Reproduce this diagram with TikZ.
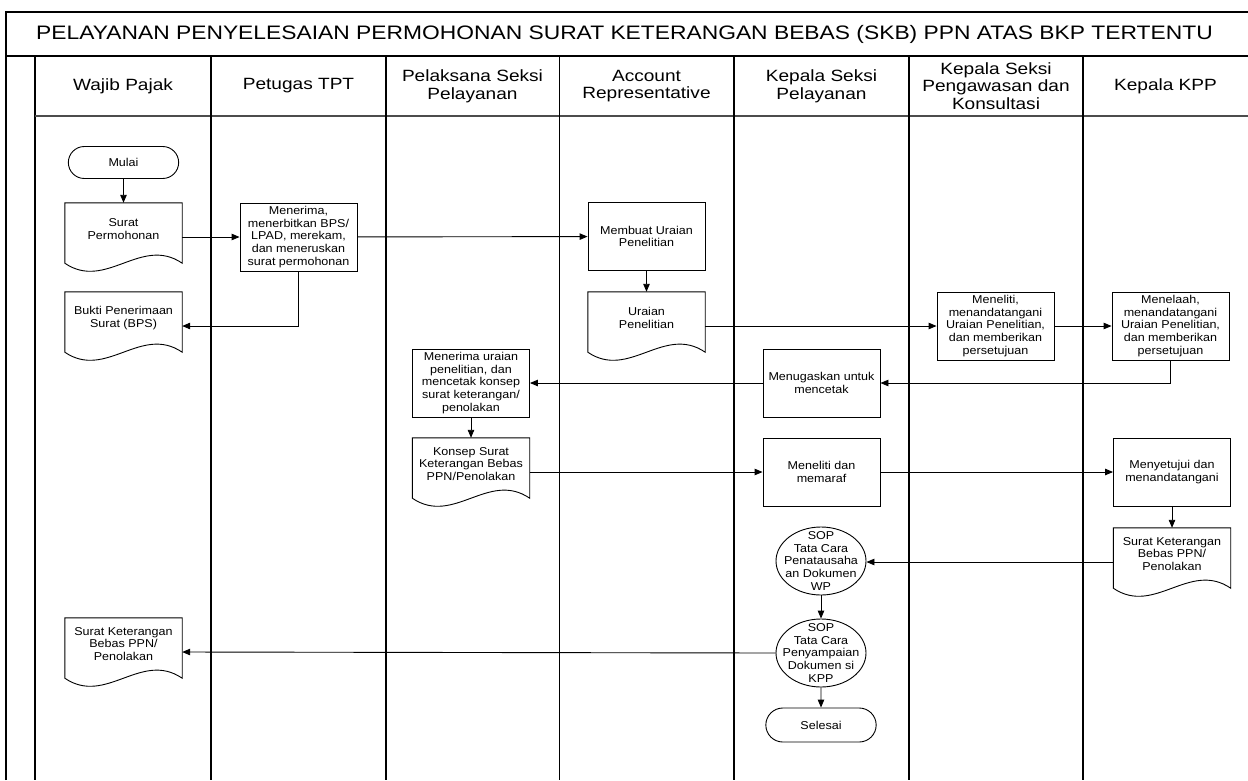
\documentclass[tikz,border=0pt]{standalone}
\usepackage{fontspec}
\setmainfont{Liberation Sans}
\newfontfamily\stf[FakeStretch=1.17]{Liberation Sans}
\newfontfamily\stb[FakeStretch=1.1]{Liberation Sans}
\usetikzlibrary{arrows.meta,shapes.geometric,shapes.misc,calc}
\newcommand\bodyfont{\stb\fontsize{11.4}{12.6}\selectfont}
\newcommand\hdrfont{\stf\fontsize{16.3}{17.7}\selectfont}
\newcommand\ttlfont{\stf\fontsize{19.5}{22}\selectfont}
\newcommand\mydoc[1]{\draw[line width=0.9pt] (#1.north west) -- (#1.north east) -- ($(#1.south east)+(0,-8)$) .. controls ($(#1.south west)!0.65!(#1.south east)+(0,-36)$) and ($(#1.south west)!0.35!(#1.south east)+(0,20)$) .. ($(#1.south west)+(0,-8)$) -- cycle;}
\begin{document}
\begin{tikzpicture}[x=1pt,y=-1pt,
  proc/.style={draw, line width=0.9pt, minimum width=117pt, minimum height=68pt, inner sep=1pt, align=center, font=\bodyfont},
  docf/.style={minimum width=117pt, minimum height=68pt, inner sep=0pt},
  txt/.style={align=center, font=\bodyfont, inner sep=0pt},
  term/.style={draw, rounded rectangle, minimum width=117pt, minimum height=32pt, line width=0.9pt, font=\bodyfont},
  sop/.style={draw, ellipse, minimum width=90pt, minimum height=68pt, inner sep=0pt, line width=0.9pt},
  arr/.style={line width=0.9pt, -{Triangle[length=8pt,width=6.5pt]}},
  lane/.style={line width=1.3pt},
  hdr/.style={align=center, font=\hdrfont, inner sep=0pt}]
\useasboundingbox (0,0) rectangle (1248,780);
% frame
\draw[line width=1.6pt] (6,780) -- (6,12) -- (1248,12);
\draw[line width=2pt] (6,56) -- (1248,56);
\draw[line width=2pt] (35,56) -- (35,780);
\draw[line width=1.1pt, black!70] (35,116) -- (1248,116);
\foreach \xx in {211,386,559.5,734,909,1083} {\draw[lane] (\xx,56) -- (\xx,780);}
% title and headers
\node[font=\ttlfont, inner sep=0pt] (title) at (624.5,34) {PELAYANAN PENYELESAIAN PERMOHONAN SURAT KETERANGAN BEBAS (SKB) PPN ATAS BKP TERTENTU};
\node[hdr] (h1) at (123,86) {Wajib Pajak};
\node[hdr] (h2) at (298.5,86) {Petugas TPT};
\node[hdr] (h3) at (472.5,86) {Pelaksana Seksi\\Pelayanan};
\node[hdr] (h4) at (646.5,86) {Account\\Representative};
\node[hdr] (h5) at (821.5,86) {Kepala Seksi\\Pelayanan};
\node[hdr] (h6) at (996,86) {Kepala Seksi\\Pengawasan dan\\Konsultasi};
\node[hdr] (h7) at (1165.5,86) {Kepala KPP};
% nodes
\node[term] (mulai) at (123.5,162.5) {Mulai};
\node[docf] (sp) at (123.5,237) {}; \mydoc{sp}
\node[txt] (spt) at ($(sp.center)+(0,-8)$) {Surat\\Permohonan};
\node[proc] (terima) at (298.5,237) {Menerima,\\menerbitkan BPS/\\LPAD, merekam,\\dan meneruskan\\surat permohonan};
\node[proc] (membuat) at (646.5,236.5) {Membuat Uraian\\Penelitian};
\node[docf] (bps) at (123.5,326) {}; \mydoc{bps}
\node[txt] (bpst) at ($(bps.center)+(0,-8)$) {Bukti Penerimaan\\Surat (BPS)};
\node[docf] (uraian) at (646.5,326) {}; \mydoc{uraian}
\node[txt] (uraiant) at ($(uraian.center)+(0,-8)$) {Uraian\\Penelitian};
\node[proc] (teliti) at (995.5,326) {Meneliti,\\menandatangani\\Uraian Penelitian,\\dan memberikan\\persetujuan};
\node[proc] (telaah) at (1170.5,326) {Menelaah,\\menandatangani\\Uraian Penelitian,\\dan memberikan\\persetujuan};
\node[proc] (tugas) at (821.5,383) {Menugaskan untuk\\mencetak};
\node[proc] (cetak) at (471,383) {Menerima uraian\\penelitian, dan\\mencetak konsep\\surat keterangan/\\penolakan};
\node[docf] (konsep) at (471,472) {}; \mydoc{konsep}
\node[txt] (konsept) at ($(konsep.center)+(0,-8)$) {Konsep Surat\\Keterangan Bebas\\PPN/Penolakan};
\node[proc] (paraf) at (821.5,472) {Meneliti dan\\memaraf};
\node[proc] (setuju) at (1172,472) {Menyetujui dan\\menandatangani};
\node[docf] (skb) at (1172,562) {}; \mydoc{skb}
\node[txt] (skbt) at ($(skb.center)+(0,-8)$) {Surat Keterangan\\Bebas PPN/\\Penolakan};
\node[sop] (sop1) at (821,561) {};
\node[txt] (sop1t) at (sop1.center) {SOP\\Tata Cara\\Penatausaha\\an Dokumen\\WP};
\node[sop] (sop2) at (821,653) {};
\node[txt] (sop2t) at (sop2.center) {SOP\\Tata Cara\\Penyampaian\\Dokumen si\\KPP};
\node[term, minimum height=34pt] (selesai) at (821,725) {Selesai};
\node[docf] (skbwp) at (123.5,652) {}; \mydoc{skbwp}
\node[txt] (skbwpt) at ($(skbwp.center)+(0,-8)$) {Surat Keterangan\\Bebas PPN/\\Penolakan};
% connectors
\draw[arr] (mulai) -- (sp);
\draw[arr] (sp.east) -- (terima.west);
\draw[arr] (terima) -- (membuat);
\draw[arr] (terima.south) |- (bps.east);
\draw[arr] (membuat) -- (uraian);
\draw[arr] (uraian.east) -- (teliti.west);
\draw[arr] (teliti) -- (telaah);
\draw[arr] (telaah.south) |- (tugas.east);
\draw[arr] (tugas) -- (cetak);
\draw[arr] (cetak) -- (konsep);
\draw[arr] (konsep.east) -- (paraf.west);
\draw[arr] (paraf) -- (setuju);
\draw[arr] (setuju) -- (skb);
\draw[arr] (skb.west) -- (skb.west -| sop1.east);
\draw[arr] (sop1) -- (sop2);
\draw[arr] (sop2.west) -- (skbwp.east);
\draw[arr] (sop2) -- (selesai);
\end{tikzpicture}
\end{document}
